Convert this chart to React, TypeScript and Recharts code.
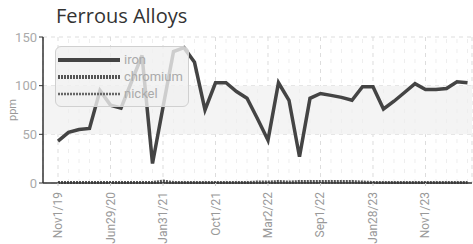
import { LineChart, Line, XAxis, YAxis, CartesianGrid, ReferenceArea, ReferenceLine } from 'recharts'

const tickIdx = [0, 5, 10, 15, 20, 25, 30, 35]
const tickLabels = ['Nov1/19', 'Jun29/20', 'Jan31/21', 'Oct1/21', 'Mar2/22', 'Sep1/22', 'Jan28/23', 'Nov1/23']

const iron = [
  43, 52, 55, 56, 95, 80, 77, 104, 131, 20,
  78, 135, 139, 124, 75, 103, 103, 94, 87, 66,
  44, 103, 85, 27, 87, 92, 90, 88, 85, 99,
  99, 76, 84, 93, 102, 96, 96, 97, 104, 103,
]
const chromium = [
  0.5, 0.5, 0.5, 0.5, 0.5, 0.5, 0.5, 0.5, 0.5, 0.5,
  2, 0.5, 0.5, 0.5, 0.5, 0.5, 0.5, 0.5, 0.5, 1,
  1, 1.5, 1, 1.5, 1.5, 1.5, 1.5, 1.5, 1.5, 1,
  0.5, 0.5, 0.5, 0.5, 0.5, 0.5, 0.5, 0.5, 0.5, 0.5,
]
const nickel = iron.map(() => 0.2)

const data = iron.map((v, i) => ({ idx: i, iron: v, chromium: chromium[i], nickel: nickel[i] }))

const legendItems = [
  { name: 'iron', color: '#444', width: 4, dash: undefined },
  { name: 'chromium', color: '#555', width: 4, dash: '2 1' },
  { name: 'nickel', color: '#666', width: 2.5, dash: '2 1' },
]

const XTick = ({ x, y, payload }: any) => {
  const label = tickLabels[tickIdx.indexOf(payload.value)] ?? ''
  return (
    <text
      x={x}
      y={y}
      transform={`rotate(-90 ${x} ${y})`}
      textAnchor="end"
      dominantBaseline="central"
      fill="#999"
      fontSize={12}
      fontFamily="Roboto"
      dx={-4}
    >
      {label}
    </text>
  )
}

const LegendBox = () => (
  <div
    style={{
      position: 'absolute',
      left: 55,
      top: 46,
      width: 134,
      height: 61,
      background: 'rgba(240,240,240,0.8)',
      border: '1px solid #d0d0d0',
      borderRadius: 6,
      paddingTop: 4,
      boxSizing: 'border-box',
    }}
  >
    {legendItems.map((it) => (
      <div key={it.name} style={{ display: 'flex', alignItems: 'center', height: 17 }}>
        <svg width={66} height={8} style={{ marginLeft: 2 }}>
          <line x1={0} y1={4} x2={62} y2={4} stroke={it.color} strokeWidth={it.width} strokeDasharray={it.dash} />
        </svg>
        <span style={{ color: '#aaa', fontSize: 13, fontFamily: 'Roboto', lineHeight: '17px' }}>{it.name}</span>
      </div>
    ))}
  </div>
)

export default function App() {
  return (
    <div style={{ position: 'absolute', left: 0, top: 0, width: 473, height: 244, background: '#fff' }}>
      <div
        style={{
          position: 'absolute',
          left: 56,
          top: 2,
          fontFamily: 'Open Sans',
          fontSize: 20,
          color: '#333',
          whiteSpace: 'nowrap',
        }}
      >
        Ferrous Alloys
      </div>
      <LineChart width={473} height={244} data={data} margin={{ top: 37, right: 1, bottom: 0, left: 0 }}>
        <ReferenceArea y1={50} y2={100} fill="#f4f4f4" fillOpacity={1} stroke="none" />
        {data.map((d) =>
          tickIdx.includes(d.idx) ? null : (
            <ReferenceLine key={d.idx} x={d.idx} stroke="#eee" strokeDasharray="4 6" />
          )
        )}
        <CartesianGrid stroke="#ddd" strokeDasharray="4 4" />
        <XAxis
          dataKey="idx"
          type="number"
          domain={[-1.43, 39.43]}
          ticks={tickIdx}
          tick={<XTick />}
          height={61}
          axisLine={{ stroke: '#333', strokeWidth: 1.5 }}
          tickLine={{ stroke: '#ccc' }}
          tickSize={3}
          interval={0}
        />
        <YAxis
          domain={[0, 150]}
          ticks={[0, 50, 100, 150]}
          width={43}
          axisLine={{ stroke: '#333', strokeWidth: 1.5 }}
          tickLine={{ stroke: '#333' }}
          tickSize={4}
          tick={{ fill: '#aaa', fontSize: 13, fontFamily: 'Roboto' }}
          label={({ viewBox }: any) => (
            <text
              x={12}
              y={viewBox.y + viewBox.height / 2}
              transform={`rotate(-90 12 ${viewBox.y + viewBox.height / 2})`}
              textAnchor="middle"
              dominantBaseline="central"
              fill="#999"
              fontSize={11}
              fontFamily="Roboto"
            >
              ppm
            </text>
          )}
        />
        <Line dataKey="nickel" stroke="#666" strokeWidth={2} strokeDasharray="2 1" dot={false} isAnimationActive={false} />
        <Line dataKey="chromium" stroke="#555" strokeWidth={3} strokeDasharray="2 1" dot={false} isAnimationActive={false} />
        <Line dataKey="iron" stroke="#444" strokeWidth={3.5} dot={false} isAnimationActive={false} />
      </LineChart>
      <LegendBox />
    </div>
  )
}
